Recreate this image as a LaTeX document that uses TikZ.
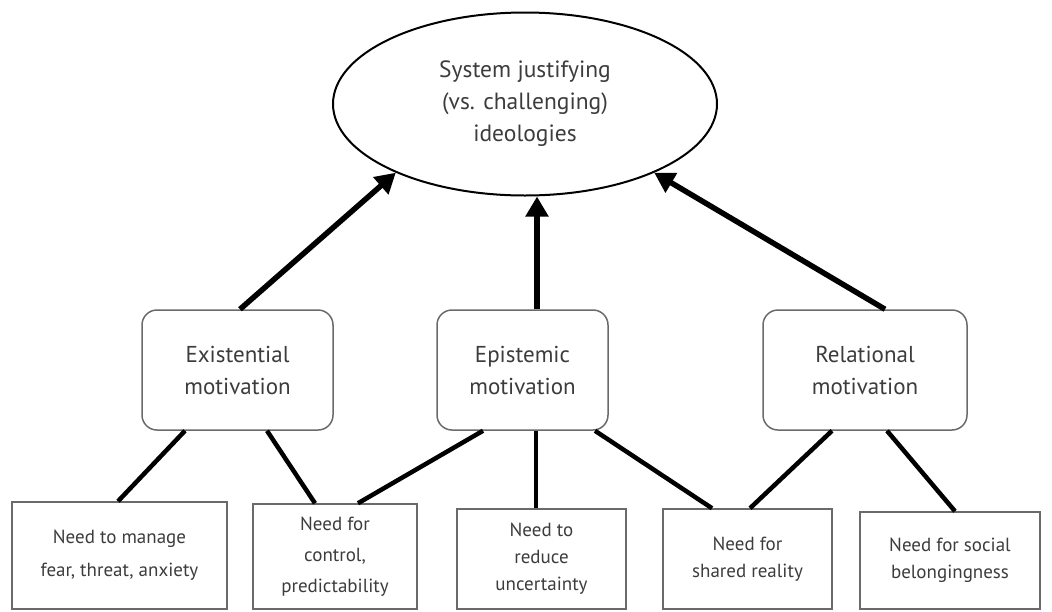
\documentclass[tikz,border=0pt]{standalone}
\usepackage{fontspec}
\setmainfont{PT Sans}
\usetikzlibrary{shapes.geometric,arrows.meta,calc}
\definecolor{txt}{HTML}{3C3C3C}
\definecolor{bord}{HTML}{6A6A6A}
\tikzset{
  big/.style={font=\fontsize{23.5}{32}\selectfont, text=txt, align=center},
  small/.style={font=\fontsize{19}{#1}\selectfont, text=txt, align=center},
  small/.default=31,
  motbox/.style={font=\fontsize{23}{32}\selectfont, text=txt, align=center, draw=bord, line width=1.5pt, rounded corners=15pt, minimum height=120pt, inner sep=0pt},
  needbox/.style={small=#1, draw=bord, line width=1.5pt, inner sep=0pt},
  needbox/.default=31,
  arr/.style={line width=5.5pt, -{Triangle[length=20pt,width=22pt]}},
  link/.style={line width=4.5pt}
}
\begin{document}
\begin{tikzpicture}[x=1pt,y=-1pt]
\useasboundingbox (0,0) rectangle (1052,611);
\node[ellipse, draw, line width=2pt, minimum width=384pt, minimum height=183pt, inner sep=0pt, big] (ell) at (525,104) {System justifying\\(vs. challenging)\\ideologies};
\node[motbox, minimum width=191pt] (ex) at (237.5,370) {Existential\\motivation};
\node[motbox, minimum width=171pt] (ep) at (522.5,370) {Epistemic\\motivation};
\node[motbox, minimum width=204pt] (re) at (865,370) {Relational\\motivation};
\node[needbox=33, minimum width=215pt, minimum height=107pt] (n1) at (119.5,555.5) {Need to manage\\fear, threat, anxiety};
\node[needbox=31, minimum width=164pt, minimum height=105pt] (n2) at (335,556.5) {Need for\\control,\\predictability};
\node[needbox=27, minimum width=169pt, minimum height=100pt] (n3) at (541.5,559) {Need to\\reduce\\uncertainty};
\node[needbox=27, minimum width=169pt, minimum height=100pt] (n4) at (747.5,559) {Need for\\shared reality};
\node[needbox=27, minimum width=180pt, minimum height=97pt] (n5) at (950,560.5) {Need for social\\belongingness};
\draw[arr] ([xshift=2.5pt]ex.north) -- (ell.208.5);
\draw[arr] ([xshift=14.5pt]ep.north) -- ([xshift=12pt]ell.south);
\draw[arr] ([xshift=20pt]re.north) -- (ell.332.7);
\draw[link] ([xshift=-52.5pt]ex.south) -- ([xshift=-1.5pt]n1.north);
\draw[link] ([xshift=29.5pt]ex.south) -- ([xshift=-20pt]n2.north);
\draw[link] ([xshift=-39.5pt]ep.south) -- ([xshift=23pt]n2.north);
\draw[link] ([xshift=13.5pt]ep.south) -- ([xshift=-5.5pt]n3.north);
\draw[link] ([xshift=72.5pt]ep.south) -- ([xshift=-35.5pt]n4.north);
\draw[link] ([xshift=-33pt]re.south) -- ([xshift=2.5pt]n4.north);
\draw[link] ([xshift=22pt]re.south) -- ([xshift=5pt]n5.north);
\end{tikzpicture}
\end{document}
